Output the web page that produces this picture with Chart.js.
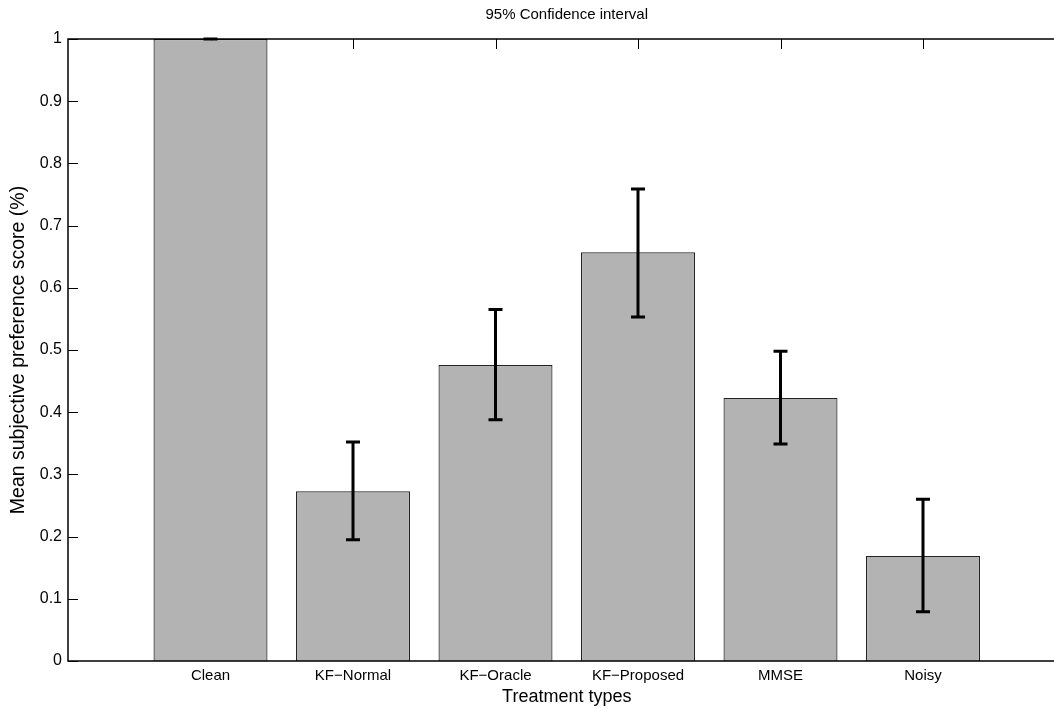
<!DOCTYPE html>
<html>
<head>
<meta charset="utf-8">
<script src="https://cdn.jsdelivr.net/npm/chart.js@4/dist/chart.umd.min.js"></script>
<style>
    html, body { margin: 0; padding: 0; background: #fff; overflow: hidden; }
</style>
</head>
<body>
<canvas id="prefChart" width="1068" height="708"></canvas>
<script>
const categories = ['Clean', 'KF\u2212Normal', 'KF\u2212Oracle', 'KF\u2212Proposed', 'MMSE', 'Noisy'];
const meanScores = [1.0, 0.273, 0.476, 0.657, 0.423, 0.169];
const ciLower = [1.0, 0.195, 0.388, 0.553, 0.349, 0.079];
const ciUpper = [1.0, 0.352, 0.565, 0.759, 0.498, 0.260];
const yTicks = [0, 0.1, 0.2, 0.3, 0.4, 0.5, 0.6, 0.7, 0.8, 0.9, 1];

const fontFamily = '"Liberation Sans", Arial, Helvetica, sans-serif';

// inward tick marks under the bars
const innerTicks = {
    id: 'innerTicks',
    beforeDatasetsDraw(chart) {
        const ctx = chart.ctx;
        const area = chart.chartArea;
        const x = chart.scales.x;
        const y = chart.scales.y;
        ctx.save();
        ctx.strokeStyle = '#000';
        ctx.lineWidth = 1;
        ctx.beginPath();
        yTicks.forEach(v => {
            const py = Math.round(y.getPixelForValue(v)) + 0.5;
            ctx.moveTo(area.left, py);
            ctx.lineTo(area.left + 10, py);
            ctx.moveTo(area.right, py);
            ctx.lineTo(area.right - 10, py);
        });
        categories.forEach((c, i) => {
            const px = Math.round(x.getPixelForValue(i + 1)) + 0.5;
            ctx.moveTo(px, area.top);
            ctx.lineTo(px, area.top + 10);
            ctx.moveTo(px, area.bottom);
            ctx.lineTo(px, area.bottom - 10);
        });
        ctx.stroke();
        ctx.restore();
    }
};

// error bars + axes box on top
const errorBars = {
    id: 'errorBars',
    afterDatasetsDraw(chart) {
        const ctx = chart.ctx;
        const meta = chart.getDatasetMeta(0);
        const y = chart.scales.y;
        const area = chart.chartArea;
        ctx.save();
        ctx.strokeStyle = '#000';
        ctx.lineWidth = 3;
        meta.data.forEach((bar, i) => {
            const top = y.getPixelForValue(ciUpper[i]);
            const bot = y.getPixelForValue(ciLower[i]);
            ctx.beginPath();
            ctx.moveTo(bar.x, top);
            ctx.lineTo(bar.x, bot);
            ctx.moveTo(bar.x - 7, top);
            ctx.lineTo(bar.x + 7, top);
            ctx.moveTo(bar.x - 7, bot);
            ctx.lineTo(bar.x + 7, bot);
            ctx.stroke();
        });
        ctx.lineWidth = 1.5;
        ctx.strokeRect(area.left, area.top, area.right - area.left, area.bottom - area.top);
        ctx.restore();
    }
};

new Chart(document.getElementById('prefChart'), {
    type: 'bar',
    data: {
        datasets: [{
            data: meanScores.map((v, i) => ({ x: i + 1, y: v })),
            backgroundColor: '#b3b3b3',
            borderColor: '#222',
            borderWidth: 1.2,
            barPercentage: 0.8,
            categoryPercentage: 1.0
        }]
    },
    options: {
        responsive: false,
        animation: false,
        layout: { padding: { left: 0, right: 2.5, top: 0, bottom: 0 } },
        plugins: {
            legend: { display: false },
            tooltip: { enabled: false },
            title: {
                display: true,
                fullSize: false,
                text: '95% Confidence interval',
                color: '#000',
                font: { family: fontFamily, size: 15, weight: 'normal' },
                padding: { top: 6, bottom: 15 }
            }
        },
        scales: {
            x: {
                type: 'linear',
                min: 0,
                max: 7,
                offset: false,
                grid: { display: false, drawTicks: false, offset: false },
                border: { display: false },
                afterBuildTicks: scale => {
                    scale.ticks = categories.map((c, i) => ({ value: i + 1 }));
                },
                afterFit: scale => { scale.height = 47; },
                ticks: {
                    autoSkip: false,
                    maxRotation: 0,
                    padding: 6,
                    color: '#000',
                    font: { family: fontFamily, size: 15 },
                    callback: v => categories[v - 1] || ''
                },
                title: {
                    display: true,
                    text: 'Treatment types',
                    color: '#000',
                    font: { family: fontFamily, size: 18 },
                    padding: { top: 0, bottom: 0 }
                }
            },
            y: {
                min: 0,
                max: 1,
                grid: { display: false, drawTicks: false },
                border: { display: false },
                afterBuildTicks: scale => {
                    scale.ticks = yTicks.map(v => ({ value: v }));
                },
                afterFit: scale => { scale.width = 68; },
                ticks: {
                    padding: 6,
                    color: '#000',
                    font: { family: fontFamily, size: 16 },
                    callback: v => String(+v.toFixed(1))
                },
                title: {
                    display: true,
                    text: 'Mean subjective preference score (%)',
                    color: '#000',
                    font: { family: fontFamily, size: 19.5 },
                    padding: { top: 7, bottom: 0 }
                }
            }
        }
    },
    plugins: [innerTicks, errorBars]
});
</script>
</body>
</html>
